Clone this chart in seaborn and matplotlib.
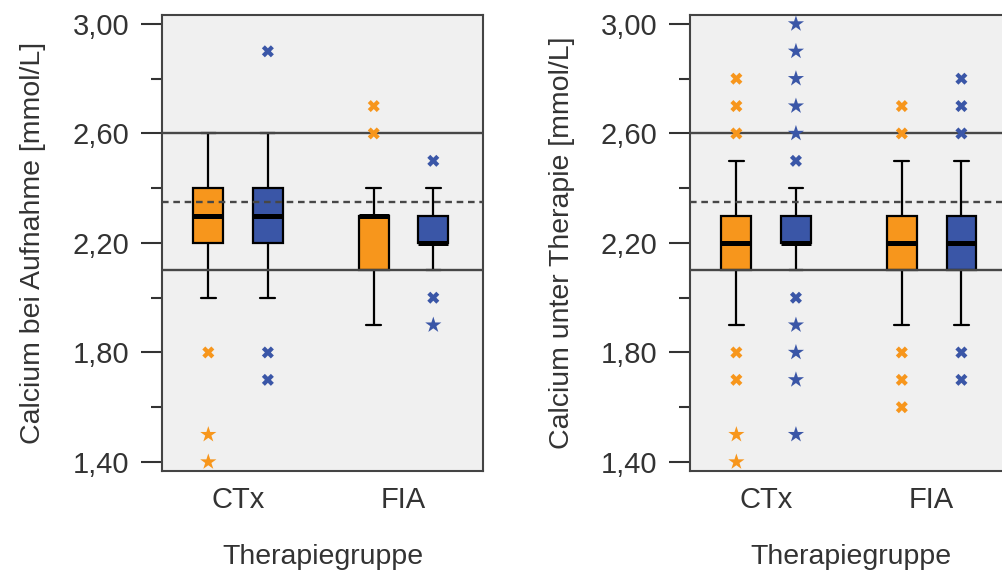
import numpy as np
import pandas as pd
import matplotlib
matplotlib.use('Agg')
import matplotlib.pyplot as plt
import seaborn as sns

# categories
groups = ['CTx', 'FIA']
series = ['Serie 1', 'Serie 2']
colors = ['#F7961C', '#3A56A7']

# one entry per box: CTx/Serie 1, CTx/Serie 2, FIA/Serie 1, FIA/Serie 2
box_group = ['CTx', 'CTx', 'FIA', 'FIA']
box_series = ['Serie 1', 'Serie 2', 'Serie 1', 'Serie 2']

# Calcium bei Aufnahme: lower whisker, Q1, median, Q3, upper whisker
aufnahme_wlo = [2.0, 2.0, 1.9, 2.1]
aufnahme_q1 = [2.2, 2.2, 2.1, 2.2]
aufnahme_med = [2.3, 2.3, 2.3, 2.2]
aufnahme_q3 = [2.4, 2.4, 2.3, 2.3]
aufnahme_whi = [2.6, 2.6, 2.4, 2.4]
aufnahme_outliers = [[1.8], [2.9, 1.8, 1.7], [2.7, 2.6], [2.5, 2.0]]
aufnahme_extremes = [[1.5, 1.4], [], [], [1.9]]

# Calcium unter Therapie
therapie_wlo = [1.9, 2.1, 1.9, 1.9]
therapie_q1 = [2.1, 2.2, 2.1, 2.1]
therapie_med = [2.2, 2.2, 2.2, 2.2]
therapie_q3 = [2.3, 2.3, 2.3, 2.3]
therapie_whi = [2.5, 2.4, 2.5, 2.5]
therapie_outliers = [[2.8, 2.7, 2.6, 1.8, 1.7], [2.5, 2.0],
                     [2.7, 2.6, 1.8, 1.7, 1.6], [2.8, 2.7, 2.6, 1.8, 1.7]]
therapie_extremes = [[1.5, 1.4], [3.0, 2.9, 2.8, 2.7, 2.6, 1.9, 1.8, 1.7, 1.5], [], []]

# reference range lines
ref_solid = [2.6, 2.1]
ref_dashed = [2.35]

ytick_values = [1.4, 1.8, 2.2, 2.6, 3.0]
ytick_labels = ['1,40', '1,80', '2,20', '2,60', '3,00']
yminor_values = [1.6, 2.0, 2.4, 2.8]

panels = [
    ('Calcium bei Aufnahme [mmol/L]', aufnahme_wlo, aufnahme_q1, aufnahme_med,
     aufnahme_q3, aufnahme_whi, aufnahme_outliers, aufnahme_extremes),
    ('Calcium unter Therapie [mmol/L]', therapie_wlo, therapie_q1, therapie_med,
     therapie_q3, therapie_whi, therapie_outliers, therapie_extremes),
]

sns.set_style('ticks', {'axes.facecolor': '#F0F0F0', 'axes.edgecolor': '#444444'})
plt.rcParams['font.family'] = ['Liberation Sans', 'DejaVu Sans']
text_color = '#333333'

box_width = 0.72
offsets = (np.arange(len(series)) - (len(series) - 1) / 2) * box_width / len(series)

fig = plt.figure(figsize=(10.03, 5.73), dpi=100)
ax_left = fig.add_axes([0.1615, 0.178, 0.32, 0.796])
ax_right = fig.add_axes([0.688, 0.178, 0.32, 0.796])

for ax, (ylabel, wlo, q1, med, q3, whi, outl, extr) in zip([ax_left, ax_right], panels):
    # each box is drawn from its five summary values
    rows = []
    for i in range(len(box_group)):
        for v in [wlo[i], q1[i], med[i], q3[i], whi[i]]:
            rows.append({'gruppe': box_group[i], 'serie': box_series[i], 'wert': v})
    box_df = pd.DataFrame(rows)

    sns.boxplot(data=box_df, x='gruppe', y='wert', hue='serie', order=groups,
                hue_order=series, palette=colors, saturation=1, width=box_width,
                gap=0.5, whis=1.5, showfliers=False, linecolor='black',
                linewidth=1.6, medianprops={'linewidth': 3.6}, legend=False, ax=ax)

    for v in ref_solid:
        ax.axhline(v, color='#474747', lw=1.7, zorder=4)
    for v in ref_dashed:
        ax.axhline(v, color='#474747', lw=1.7, ls=(0, (2.8, 2.0)), zorder=4)

    fl_rows = []
    for i in range(len(box_group)):
        pos = groups.index(box_group[i]) + offsets[series.index(box_series[i])]
        for v in outl[i]:
            fl_rows.append({'pos': pos, 'wert': v, 'serie': box_series[i], 'art': 'out'})
        for v in extr[i]:
            fl_rows.append({'pos': pos, 'wert': v, 'serie': box_series[i], 'art': 'ext'})
    fl_df = pd.DataFrame(fl_rows)

    sns.scatterplot(data=fl_df[fl_df['art'] == 'out'], x='pos', y='wert', hue='serie',
                    hue_order=series, palette=colors, marker='X', s=75, linewidth=0,
                    legend=False, ax=ax, zorder=5)
    sns.scatterplot(data=fl_df[fl_df['art'] == 'ext'], x='pos', y='wert', hue='serie',
                    hue_order=series, palette=colors, marker='*', s=150, linewidth=0,
                    legend=False, ax=ax, zorder=5)

    ax.set_xlim(-0.46, 1.48)
    ax.set_ylim(1.367, 3.033)
    ax.set_xticks(range(len(groups)), groups)
    ax.set_yticks(ytick_values, ytick_labels)
    ax.set_yticks(yminor_values, minor=True)
    ax.tick_params(axis='y', which='major', length=15, width=1.5, color='#333333',
                   labelsize=21, labelcolor=text_color, pad=8.5)
    ax.tick_params(axis='y', which='minor', length=8, width=1.5, color='#333333')
    ax.tick_params(axis='x', length=0, labelsize=21, labelcolor=text_color, pad=11)

    ax.set_xlabel('Therapiegruppe', fontsize=20.5, color=text_color)
    ax.set_ylabel(ylabel, fontsize=20.5, color=text_color)
    ax.xaxis.set_label_coords(0.5, -0.16)
    ax.yaxis.set_label_coords(-0.36, 0.5)

    for s in ax.spines.values():
        s.set_visible(True)
        s.set_color('#444444')
        s.set_linewidth(1.5)

fig.savefig('out.png', dpi=100)
